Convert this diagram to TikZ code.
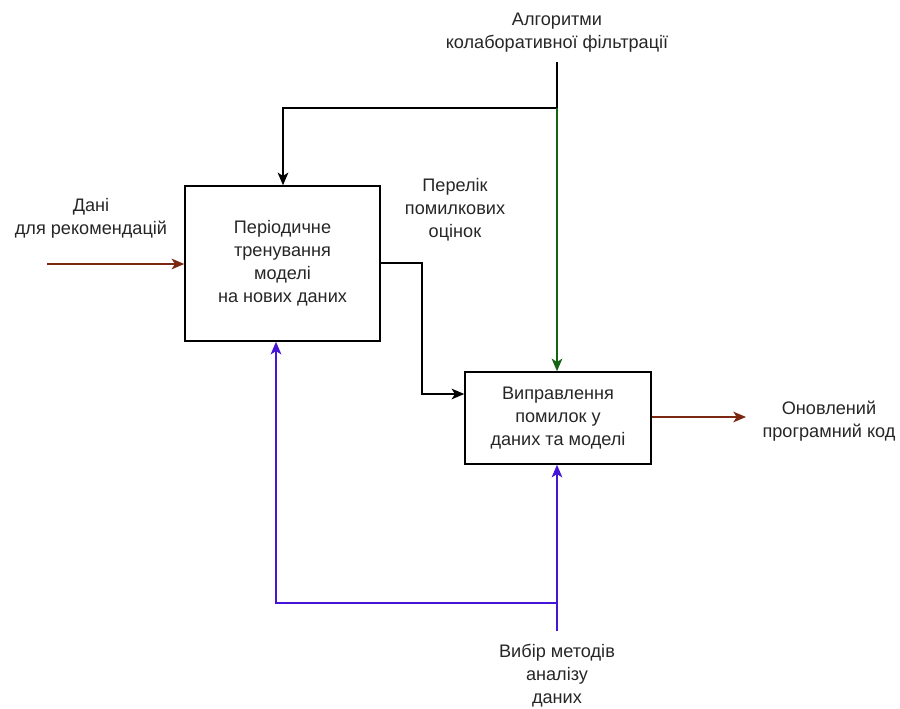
\documentclass[tikz,border=0pt]{standalone}
\usepackage{fontspec}
\setmainfont{Liberation Sans}
\usetikzlibrary{arrows.meta}
\definecolor{cbrown}{RGB}{122,40,18}
\definecolor{cgreen}{RGB}{20,100,20}
\definecolor{cpurple}{RGB}{70,20,215}
\begin{document}
\begin{tikzpicture}[x=0.75pt,y=-0.75pt,
  font=\fontsize{13.6}{17.25}\selectfont,
  proc/.style={draw, line width=1.1pt, inner sep=0pt, align=center, text=black!85},
  lbl/.style={align=center, inner sep=0pt, text=black!85},
  conn/.style={line width=1.1pt, -{Stealth[length=9.5pt,width=8pt,inset=2.5pt]}},
  plain/.style={line width=1.1pt}]
\useasboundingbox (0,0) rectangle (900,708);
% boxes
\node[proc, minimum width=195*0.75pt, minimum height=155*0.75pt] (b1) at (282.5,263.5)
  {Періодичне\\тренування\\моделі\\на нових даних};
\node[proc, minimum width=186*0.75pt, minimum height=92*0.75pt] (b2) at (558,418)
  {Виправлення\\помилок у\\даних та моделі};
% labels
\node[lbl] (tAlg) at (557,33) {Алгоритми\\колаборативної фільтрації};
\node[lbl] (tPer) at (455,210) {Перелік\\помилкових\\оцінок};
\node[lbl] (tDan) at (91,218) {Дані\\для рекомендацій};
\node[lbl] (tOut) at (829,421) {Оновлений\\програмний код};
\node[lbl] (tVyb) at (557,676) {Вибір методів\\аналізу\\даних};
% coordinates
\coordinate (algTop) at (557,62);
\coordinate (split) at (557,108);
\coordinate (inL) at (47,264);
\coordinate (outR) at (746,417);
\coordinate (vybBot) at (557,631);
\coordinate (vsplit) at (557,603);
% control (black + green)
\draw[plain] (algTop) -- (split);
\draw[conn] (split) -- (283,108) -- (b1.north -| 283,0);
\draw[conn, cgreen] (split) -- (b2.north -| split);
% feedback black
\draw[conn] (b1.east |- 0,263) -- (422,263) -- (422,394) -- (b2.west |- 0,394);
% input / output brown
\draw[conn, cbrown] (inL) -- (b1.west |- inL);
\draw[conn, cbrown] (b2.east |- outR) -- (outR);
% mechanism purple
\draw[conn, cpurple] (vybBot) -- (b2.south -| vybBot);
\draw[conn, cpurple] (vsplit) -- (276,603) -- (b1.south -| 276,0);
\end{tikzpicture}
\end{document}
